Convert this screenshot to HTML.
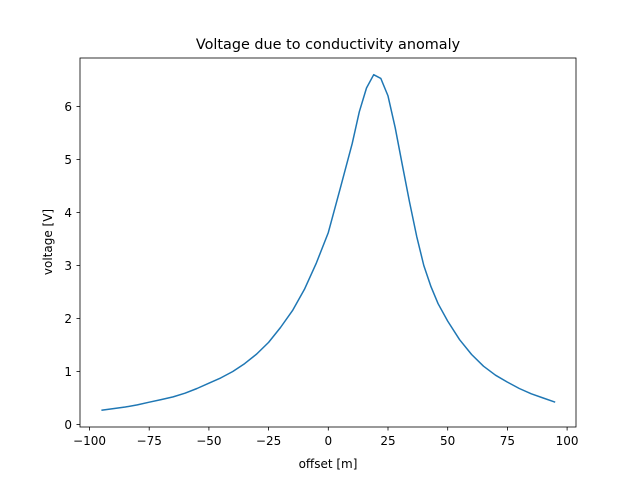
<!DOCTYPE html>
<html><head><meta charset="utf-8"><style>
body{margin:0;background:#fff}
text{font-family:"DejaVu Sans","Liberation Sans",sans-serif;fill:#000}
</style></head><body>
<svg id="chart" width="640" height="480">
<rect x="0" y="0" width="640" height="480" fill="#fff"/>
<text x="328" y="49" font-size="14.4" text-anchor="middle">Voltage due to conductivity anomaly</text>
<g id="ticks"></g>
<path id="line" fill="none" stroke="#1f77b4" stroke-width="1.5" stroke-linejoin="round"/>
<rect x="80" y="58" width="496" height="369" fill="none" stroke="#000" stroke-width="0.8"/>
<text x="328" y="468" font-size="12" text-anchor="middle">offset [m]</text>
<text x="0" y="0" font-size="12" text-anchor="middle" transform="translate(52,242) rotate(-90)">voltage [V]</text>
</svg>
<script>
const offsets=[-95,-90,-85,-80,-75,-70,-65,-60,-55,-50,-45,-40,-35,-30,-25,-20,-15,-10,-5,0,5,10,13,16,19,22,25,28,31,34,37,40,43,46,50,55,60,65,70,75,80,85,90,95];
const voltages=[0.27,0.30,0.33,0.37,0.42,0.47,0.52,0.59,0.68,0.78,0.88,1.0,1.15,1.33,1.55,1.83,2.15,2.55,3.05,3.62,4.45,5.3,5.9,6.35,6.6,6.53,6.2,5.6,4.9,4.2,3.55,3.0,2.6,2.28,1.95,1.6,1.32,1.1,0.93,0.8,0.68,0.58,0.5,0.42];
const xTicks=[-100,-75,-50,-25,0,25,50,75,100];
const yTicks=[0,1,2,3,4,5,6];
const xs=v=>328.3+v*2.388;
const ys=v=>424.5-v*53;
const ns="http://www.w3.org/2000/svg";
const g=document.getElementById('ticks');
xTicks.forEach(t=>{
 const l=document.createElementNS(ns,'line');
 
 
 l.setAttribute('x1',xs(t));l.setAttribute('x2',xs(t));l.setAttribute('y1',427);l.setAttribute('y2',430.5);l.setAttribute('stroke','#000');l.setAttribute('stroke-width','0.8');g.appendChild(l);
 const tx=document.createElementNS(ns,'text');
 
 
 tx.setAttribute('x',xs(t));tx.setAttribute('y',445);tx.setAttribute('font-size','12');tx.setAttribute('text-anchor','middle');
 tx.textContent=t<0?'\u2212'+(-t):String(t);g.appendChild(tx);
});
yTicks.forEach(t=>{
 const l=document.createElementNS(ns,'line');
 
 
 l.setAttribute('x1',76.5);l.setAttribute('x2',80);l.setAttribute('y1',ys(t));l.setAttribute('y2',ys(t));l.setAttribute('stroke','#000');l.setAttribute('stroke-width','0.8');g.appendChild(l);
 const tx=document.createElementNS(ns,'text');
 
 
 tx.setAttribute('x',72);tx.setAttribute('y',ys(t)+4.5);tx.setAttribute('font-size','12');tx.setAttribute('text-anchor','end');
 tx.textContent=String(t);g.appendChild(tx);
});
document.getElementById('line').setAttribute('d',offsets.map((o,i)=>(i?'L':'M')+xs(o).toFixed(1)+' '+ys(voltages[i]).toFixed(1)).join(' '));
</script>
</body></html>
